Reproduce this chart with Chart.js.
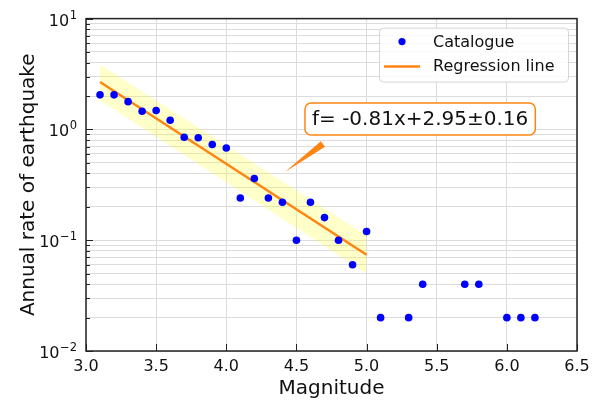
<!DOCTYPE html>
<html>
<head>
<meta charset="utf-8">
<script src="https://cdn.jsdelivr.net/npm/chart.js@4.4.1/dist/chart.umd.min.js"></script>
<style>
  html, body { margin: 0; padding: 0; background: #fff; }
  #wrap { width: 596px; height: 400px; }
</style>
</head>
<body>
<div id="wrap"><canvas id="chart"></canvas></div>
<script>
// values
const magnitudes = [3.1, 3.2, 3.3, 3.4, 3.5, 3.6, 3.7, 3.8, 3.9, 4.0, 4.1, 4.2, 4.3, 4.4, 4.5,
  4.6, 4.7, 4.8, 4.9, 5.0, 5.1, 5.3, 5.4, 5.7, 5.8, 6.0, 6.1, 6.2];
const rates = [2.05, 2.05, 1.78, 1.46, 1.48, 1.21, 0.85, 0.84, 0.73, 0.68, 0.24, 0.36, 0.24, 0.22, 0.10,
  0.22, 0.16, 0.10, 0.06, 0.12, 0.02, 0.02, 0.04, 0.04, 0.04, 0.02, 0.02, 0.02];
const fitX = [3.1, 5.0];
const fitY = [2.68, 0.074];
const bandUpper = [3.86, 0.11];
const bandLower = [1.83, 0.05];
const xTicks = [3.0, 3.5, 4.0, 4.5, 5.0, 5.5, 6.0, 6.5];
const yDecades = [0.01, 0.1, 1, 10];
const yTickBase = '10';
const yTickExps = ['\u22122', '\u22121', '0', '1'];
const equation = 'f= -0.81x+2.95\u00B10.16';

const FONT = '"DejaVu Sans", "Liberation Sans", sans-serif';
const ORANGE = '#ff8513';
const BLUE = '#0000ff';

const pts = (xs, ys) => xs.map((v, i) => ({x: v, y: ys[i]}));

const overlay = {
  id: 'overlay',
  afterDraw(chart) {
    const {ctx, chartArea: a, scales: {x, y}} = chart;
    ctx.save();

    // inward tick marks
    ctx.strokeStyle = '#222';
    ctx.lineWidth = 1;
    y.ticks.forEach(t => {
      const py = Math.round(y.getPixelForValue(t.value)) + 0.5;
      const lg = Math.log10(t.value);
      const len = Math.abs(lg - Math.round(lg)) < 1e-6 ? 7 : 4;
      ctx.beginPath(); ctx.moveTo(a.left, py); ctx.lineTo(a.left + len, py); ctx.stroke();
    });
    x.ticks.forEach(t => {
      const px = Math.round(x.getPixelForValue(t.value)) + 0.5;
      ctx.beginPath(); ctx.moveTo(px, a.bottom); ctx.lineTo(px, a.bottom - 7); ctx.stroke();
    });

    // y tick labels as 10 with a raised exponent
    ctx.fillStyle = '#111';
    ctx.textAlign = 'right';
    ctx.textBaseline = 'alphabetic';
    yDecades.forEach((d, i) => {
      const py = y.getPixelForValue(d);
      const right = a.left - 9;
      ctx.font = '11.5px ' + FONT;
      const ew = ctx.measureText(yTickExps[i]).width;
      ctx.fillText(yTickExps[i], right, py);
      ctx.font = '16px ' + FONT;
      ctx.fillText(yTickBase, right - ew - 0.5, py + 7);
    });

    // frame
    ctx.strokeStyle = '#222';
    ctx.lineWidth = 1.5;
    ctx.strokeRect(a.left, a.top, a.right - a.left, a.bottom - a.top);

    // legend
    const lx = a.right - 198, ly = a.top + 9;
    ctx.beginPath();
    ctx.roundRect(lx + 0.5, ly + 0.5, 189, 54, 4);
    ctx.fillStyle = 'rgba(255,255,255,0.85)';
    ctx.fill();
    ctx.strokeStyle = '#d6d6d6';
    ctx.lineWidth = 1;
    ctx.stroke();
    const ds = chart.data.datasets;
    ctx.font = '16px ' + FONT;
    ctx.textBaseline = 'middle';
    ctx.textAlign = 'left';
    ctx.beginPath();
    ctx.arc(lx + 23, ly + 14, 3.6, 0, Math.PI * 2);
    ctx.fillStyle = BLUE;
    ctx.fill();
    ctx.fillStyle = '#111';
    ctx.fillText(ds[0].label, lx + 54, ly + 15);
    ctx.beginPath();
    ctx.moveTo(lx + 5, ly + 39); ctx.lineTo(lx + 41, ly + 39);
    ctx.strokeStyle = ORANGE;
    ctx.lineWidth = 2.5;
    ctx.stroke();
    ctx.fillText(ds[1].label, lx + 54, ly + 39);

    // annotation arrow (wedge)
    const tx = x.getPixelForValue(4.418), ty = y.getPixelForValue(0.413);
    const bx = x.getPixelForValue(4.689), by = y.getPixelForValue(0.738);
    const dx = bx - tx, dy = by - ty, d = Math.hypot(dx, dy);
    const nx = -dy / d * 3.5, ny = dx / d * 3.5;
    ctx.beginPath();
    ctx.moveTo(tx, ty);
    ctx.lineTo(bx + nx, by + ny);
    ctx.lineTo(bx - nx, by - ny);
    ctx.closePath();
    ctx.fillStyle = ORANGE;
    ctx.fill();

    // annotation box
    ctx.font = '20px ' + FONT;
    const bl = x.getPixelForValue(4.561), bc = y.getPixelForValue(1.24);
    const tw = ctx.measureText(equation).width;
    ctx.beginPath();
    ctx.roundRect(bl, bc - 16, tw + 14, 32, 6);
    ctx.fillStyle = '#fff';
    ctx.fill();
    ctx.strokeStyle = ORANGE;
    ctx.lineWidth = 1.5;
    ctx.stroke();
    ctx.fillStyle = '#111';
    ctx.fillText(equation, bl + 7, bc + 1);

    ctx.restore();
  }
};

new Chart(document.getElementById('chart'), {
  type: 'scatter',
  data: {
    datasets: [
      {
        label: 'Catalogue',
        data: pts(magnitudes, rates),
        backgroundColor: BLUE,
        borderWidth: 0,
        pointRadius: 3.8
      },
      {
        label: 'Regression line',
        type: 'line',
        data: pts(fitX, fitY),
        borderColor: ORANGE,
        borderWidth: 2.5,
        pointRadius: 0,
        fill: false
      },
      {
        label: 'band upper',
        type: 'line',
        data: pts(fitX, bandUpper),
        borderWidth: 0,
        pointRadius: 0,
        fill: '+1',
        backgroundColor: 'rgba(255,255,60,0.27)'
      },
      {
        label: 'band lower',
        type: 'line',
        data: pts(fitX, bandLower),
        borderWidth: 0,
        pointRadius: 0,
        fill: false
      }
    ]
  },
  options: {
    responsive: true,
    maintainAspectRatio: false,
    animation: false,
    layout: { padding: { left: 0, top: 17, right: 19, bottom: 0 } },
    plugins: {
      legend: { display: false },
      tooltip: { enabled: false }
    },
    scales: {
      x: {
        type: 'linear',
        min: 3.0,
        max: 6.5,
        afterBuildTicks: s => { s.ticks = xTicks.map(v => ({value: v})); },
        afterFit: s => { s.height = 49; },
        grid: { color: '#dcdcdc', lineWidth: 1, drawTicks: false },
        border: { display: false },
        ticks: {
          padding: 6,
          color: '#111',
          font: { family: FONT, size: 16 },
          maxRotation: 0,
          autoSkip: false,
          callback: v => v.toFixed(1)
        },
        title: {
          display: true,
          text: 'Magnitude',
          color: '#111',
          font: { family: FONT, size: 20, lineHeight: 1.0 },
          padding: { top: 0, bottom: 1 }
        }
      },
      y: {
        type: 'logarithmic',
        min: 0.01,
        max: 10,
        afterBuildTicks: s => {
          const t = [];
          for (let e = -2; e <= 0; e++) {
            for (let k = 1; k <= 9; k++) t.push({value: Number((k * Math.pow(10, e)).toPrecision(3))});
          }
          t.push({value: 10});
          s.ticks = t;
        },
        afterFit: s => { s.width = 86; },
        grid: { color: '#dcdcdc', lineWidth: 1, drawTicks: false },
        border: { display: false },
        ticks: {
          padding: 9,
          color: '#111',
          font: { family: FONT, size: 16 },
          autoSkip: false,
          callback: () => ''
        },
        title: {
          display: true,
          text: 'Annual rate of earthquake',
          color: '#111',
          font: { family: FONT, size: 20, lineHeight: 1.2 },
          padding: { top: 17, bottom: 0 }
        }
      }
    }
  },
  plugins: [overlay]
});
</script>
</body>
</html>
